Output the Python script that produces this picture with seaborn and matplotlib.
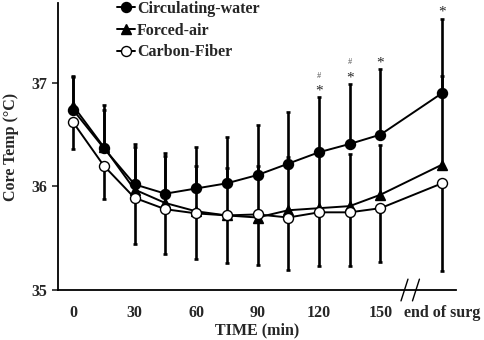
import matplotlib
matplotlib.use("Agg")
import numpy as np
import pandas as pd
import matplotlib.pyplot as plt
import seaborn as sns

# time points (min); the last one is "end of surgery", drawn after an axis break
times = [0, 15, 30, 45, 60, 75, 90, 105, 120, 135, 150, 180]
tick_pos = [0, 30, 60, 90, 120, 150, 180]
tick_labels = ["0", "30", "60", "90", "120", "150", "end of surg"]

water_mean = [36.74, 36.37, 36.02, 35.93, 35.98, 36.03, 36.11, 36.22, 36.33, 36.41, 36.50, 36.90]
water_sd = [0.33, 0.42, 0.39, 0.39, 0.40, 0.45, 0.48, 0.50, 0.53, 0.58, 0.63, 0.72]

air_mean = [36.78, 36.38, 35.97, 35.84, 35.76, 35.72, 35.70, 35.77, 35.79, 35.81, 35.92, 36.21]
air_sd = [0.28, 0.36, 0.41, 0.45, 0.44, 0.46, 0.50, 0.51, 0.51, 0.50, 0.48, 0.86]

carbon_mean = [36.62, 36.20, 35.89, 35.78, 35.74, 35.72, 35.73, 35.70, 35.75, 35.75, 35.79, 36.03]
carbon_sd = [0.26, 0.32, 0.45, 0.43, 0.44, 0.46, 0.49, 0.51, 0.52, 0.52, 0.52, 0.85]

# significance marks above the circulating-water bars
star_times = [120, 135, 150, 180]
hash_times = [120, 135]

sns.set_theme(style="ticks")
plt.rcParams["font.family"] = ["Liberation Serif", "DejaVu Serif"]
plt.rcParams["font.weight"] = "bold"

fig = plt.figure(figsize=(4.84, 3.40), dpi=100)
ax = fig.add_axes([0.12, 0.147, 0.822, 0.844])

df = pd.DataFrame({
    "time": times * 3,
    "temp": water_mean + air_mean + carbon_mean,
    "sd": water_sd + air_sd + carbon_sd,
    "group": ["Circulating-water"] * len(times) + ["Forced-air"] * len(times)
             + ["Carbon-Fiber"] * len(times),
})

# one-sided error bars, as in the original figure
ebar = dict(fmt="none", ecolor="black", elinewidth=1.9, capsize=1.7, capthick=1.9, zorder=1)
w = df[df.group == "Circulating-water"]
a = df[df.group == "Forced-air"]
c = df[df.group == "Carbon-Fiber"]
ax.errorbar(w.time, w.temp, yerr=[np.zeros(len(w)), w.sd], **ebar)
ax.errorbar(a.time, a.temp, yerr=[np.zeros(len(a)), a.sd], **ebar)
ax.errorbar(c.time, c.temp, yerr=[c.sd, np.zeros(len(c))], **ebar)

line_kw = dict(color="black", linewidth=1.4, markersize=7.2, markeredgewidth=1.0,
               markeredgecolor="black", zorder=3)
sns.lineplot(data=w, x="time", y="temp", marker="o", label="Circulating-water", ax=ax, **line_kw)
sns.lineplot(data=a, x="time", y="temp", marker="^", label="Forced-air", ax=ax, **line_kw)
sns.lineplot(data=c, x="time", y="temp", marker="o", markerfacecolor="white",
             label="Carbon-Fiber", ax=ax, **line_kw)

top = dict(zip(w.time, w.temp + w.sd))
for t in star_times:
    ax.text(t, top[t] + 0.06, "*", ha="center", va="center", fontsize=11, fontweight="normal")
for t in hash_times:
    ax.text(t, top[t] + 0.21, "#", ha="center", va="center", fontsize=6,
            fontweight="normal", color="#555555")

# axis break marks between 150 and end of surgery
for xb in [161.7, 167.3]:
    ax.plot([xb - 1.7, xb + 1.7], [34.895, 35.105], color="black", lw=1.0, clip_on=False)

ax.set_xlim(-7.3, 186.8)
ax.set_ylim(35, 37.77)
ax.set_xticks(tick_pos)
ax.set_xticklabels(tick_labels)
ax.set_yticks([35, 36, 37])
ax.tick_params(axis="x", length=0, pad=11, labelsize=11.5)
ax.tick_params(axis="y", length=4, width=1.2, direction="out", pad=4, labelsize=11.5)
for lab in ax.get_xticklabels() + ax.get_yticklabels():
    lab.set_fontweight("bold")

ax.set_xlabel("TIME (min)", fontsize=11.5, fontweight="bold", labelpad=1)
ax.set_ylabel("Core Temp (°C)", fontsize=11.5, fontweight="bold", labelpad=9)

sns.despine(ax=ax)
for s in ["left", "bottom"]:
    ax.spines[s].set_linewidth(1.3)
    ax.spines[s].set_color("black")

leg = ax.legend(loc="upper left", bbox_to_anchor=(117 / 484, 1 - 1 / 340), bbox_transform=fig.transFigure,
                frameon=False, fontsize=11.5, handlelength=1.1, handletextpad=0.15,
                labelspacing=0.36, borderpad=0, borderaxespad=0)
for txt in leg.get_texts():
    txt.set_fontweight("bold")

fig.savefig("out.png", dpi=100)
